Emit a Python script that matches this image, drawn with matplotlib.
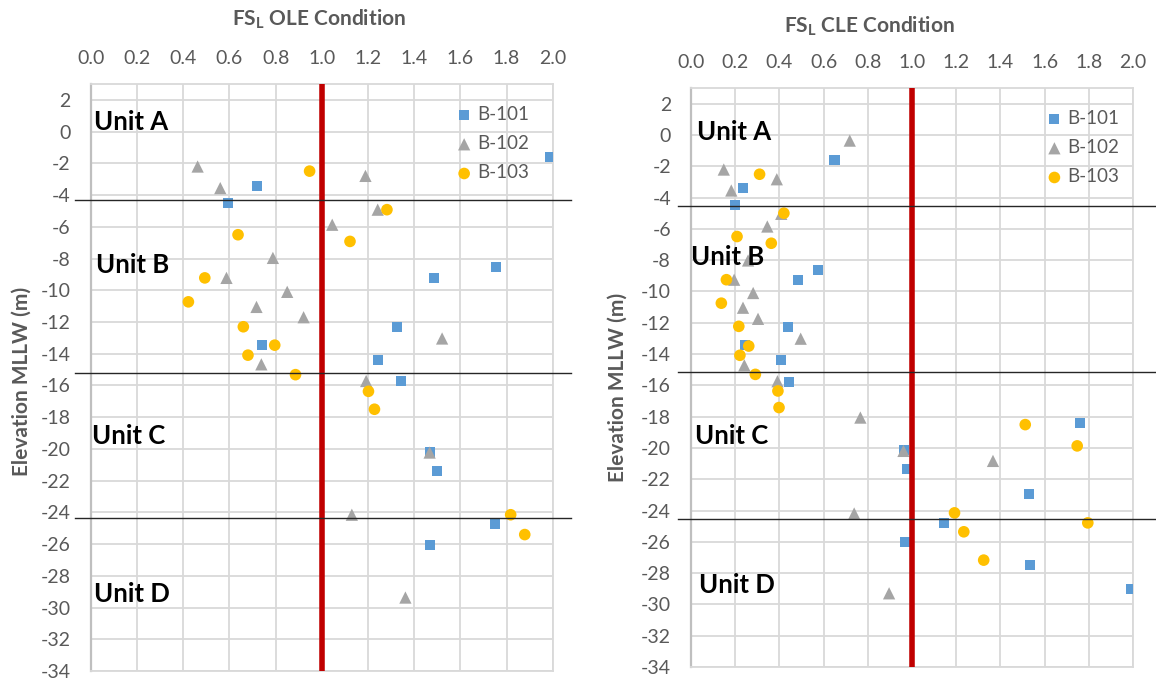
import numpy as np
import matplotlib
matplotlib.use("Agg")
import matplotlib.pyplot as plt
import matplotlib.transforms as mtransforms

plt.rcParams['font.family'] = ['Lato', 'DejaVu Sans']
plt.rcParams['axes.unicode_minus'] = False

# Factor of safety against liquefaction, OLE case
ole_b101_fs = [1.99, 0.72, 0.595, 1.753, 1.484, 1.327, 0.741, 1.244, 1.341, 1.47, 1.497, 1.748, 1.47]
ole_b101_el = [-1.57, -3.4, -4.5, -8.55, -9.2, -12.3, -13.46, -14.4, -15.74, -20.2, -21.4, -24.76, -26.04]
ole_b102_fs = [0.462, 1.189, 0.56, 1.242, 1.045, 0.788, 0.587, 0.85, 0.717, 0.921, 1.521, 0.738,
               1.192, 1.467, 1.13, 1.362]
ole_b102_el = [-2.2, -2.79, -3.56, -4.92, -5.87, -7.96, -9.22, -10.1, -11.05, -11.7, -13.04, -14.67,
               -15.72, -20.23, -24.15, -29.37]
ole_b103_fs = [0.947, 1.282, 0.637, 1.122, 0.493, 0.422, 0.66, 0.796, 0.68, 0.886, 1.202, 1.228,
               1.818, 1.879]
ole_b103_el = [-2.49, -4.92, -6.5, -6.92, -9.22, -10.73, -12.3, -13.46, -14.09, -15.32, -16.37, -17.5,
               -24.15, -25.4]

# CLE case
cle_b101_fs = [0.649, 0.236, 0.198, 0.575, 0.486, 0.438, 0.245, 0.408, 0.441, 1.759, 0.963, 0.979,
               1.527, 1.144, 0.966, 1.532, 1.99]
cle_b101_el = [-1.58, -3.41, -4.47, -8.64, -9.25, -12.28, -13.45, -14.4, -15.79, -18.38, -20.15, -21.36,
               -22.95, -24.79, -26.0, -27.49, -29.04]
cle_b102_fs = [0.718, 0.148, 0.388, 0.182, 0.408, 0.345, 0.258, 0.195, 0.281, 0.235, 0.303, 0.496,
               0.241, 0.391, 0.766, 0.961, 1.366, 0.738, 0.896]
cle_b102_el = [-0.36, -2.21, -2.83, -3.55, -5.04, -5.85, -8.02, -9.25, -10.1, -11.04, -11.75, -13.02,
               -14.72, -15.74, -18.06, -20.19, -20.83, -24.19, -29.29]
cle_b103_fs = [0.31, 0.42, 0.208, 0.363, 0.16, 0.137, 0.216, 0.261, 0.221, 0.291, 0.393, 0.398,
               1.512, 1.747, 1.192, 1.234, 1.795, 1.324]
cle_b103_el = [-2.51, -5.0, -6.49, -6.92, -9.25, -10.75, -12.23, -13.49, -14.08, -15.3, -16.36, -17.42,
               -18.51, -19.87, -24.15, -25.36, -24.79, -27.17]

# Unit boundaries (elevation, m)
ole_bounds = [-4.32, -15.2, -24.36]
cle_bounds = [-4.55, -15.14, -24.57]

unit_names = ["Unit A", "Unit B", "Unit C", "Unit D"]
ole_unit_pos = [(0.013, 0.1), (0.02, -8.94), (0.004, -19.67), (0.013, -29.62)]
cle_unit_pos = [(0.026, -0.32), (0.0, -8.28), (0.02, -19.72), (0.038, -29.29)]

borings = ["B-101", "B-102", "B-103"]
colors = ["#5B9BD5", "#A5A5A5", "#FFC000"]
markers = ["s", "^", "o"]
sizes = [52, 78, 70]

GREY = "#595959"


def draw_panel(ax, series, bounds, unit_pos, legend_anchor, line_span):
    ax.set_xlim(0, 2.0)
    ax.set_ylim(-34, 3)
    ax.set_xticks(np.arange(0, 2.01, 0.2))
    ax.set_xticklabels([f"{v:.1f}" for v in np.arange(0, 2.01, 0.2)])
    ax.set_yticks(np.arange(-34, 3, 2))
    ax.xaxis.tick_top()
    ax.tick_params(axis='x', length=0, pad=12.5, labelsize=14, labelcolor=GREY)
    ax.tick_params(axis='y', length=0, pad=14.5, labelsize=14, labelcolor=GREY)
    ax.grid(True, color="#D9D9D9", linewidth=1.3, zorder=0)
    ax.set_axisbelow(True)
    for side in ["top", "right", "bottom"]:
        ax.spines[side].set_color("#D9D9D9")
        ax.spines[side].set_linewidth(1.3)
    ax.spines["left"].set_color("#BFBFBF")
    ax.spines["left"].set_linewidth(1.6)

    for (fs, el), name, c, m, s in zip(series, borings, colors, markers, sizes):
        ax.scatter(fs, el, s=s, marker=m, color=c, edgecolors="none", label=name, zorder=3)

    ax.axvline(1.0, color="#C00000", linewidth=4, zorder=4)

    trans = mtransforms.blended_transform_factory(ax.transAxes, ax.transData)
    for b in bounds:
        ax.plot(line_span, [b, b], color="#262626", linewidth=1.0, transform=trans,
                clip_on=False, zorder=5)

    for name, (ux, uy) in zip(unit_names, unit_pos):
        ax.text(ux, uy, name, fontsize=18.5, fontweight="bold", color="black",
                ha="left", va="baseline", zorder=6)

    ax.legend(loc="upper left", bbox_to_anchor=legend_anchor, frameon=False, fontsize=13.5,
              labelcolor=GREY, handlelength=0.8, handletextpad=0.3, labelspacing=0.65,
              borderpad=0, borderaxespad=0)


fig = plt.figure(figsize=(11.56, 6.83), dpi=100)
ax1 = fig.add_axes([0.0787, 0.01757, 0.3994, 0.8594])
ax2 = fig.add_axes([0.5978, 0.02343, 0.3824, 0.8477])

draw_panel(ax1,
           [(ole_b101_fs, ole_b101_el), (ole_b102_fs, ole_b102_el), (ole_b103_fs, ole_b103_el)],
           ole_bounds, ole_unit_pos, (0.792, 0.9625), (-0.035, 1.04))
draw_panel(ax2,
           [(cle_b101_fs, cle_b101_el), (cle_b102_fs, cle_b102_el), (cle_b103_fs, cle_b103_el)],
           cle_bounds, cle_unit_pos, (0.805, 0.962), (-0.03, 1.05))

fig.text(0.276, 0.9634, r"FS$_\mathregular{L}$ OLE Condition", fontsize=15, fontweight="bold",
         color=GREY, ha="center", va="baseline")
fig.text(0.7517, 0.9527, r"FS$_\mathregular{L}$ CLE Condition", fontsize=15, fontweight="bold",
         color=GREY, ha="center", va="baseline")
fig.text(0.019, 0.442, "Elevation MLLW (m)", fontsize=15, fontweight="bold", color=GREY,
         rotation=90, ha="center", va="center")
fig.text(0.5346, 0.4327, "Elevation MLLW (m)", fontsize=15, fontweight="bold", color=GREY,
         rotation=90, ha="center", va="center")

fig.savefig("out.png", dpi=100)
